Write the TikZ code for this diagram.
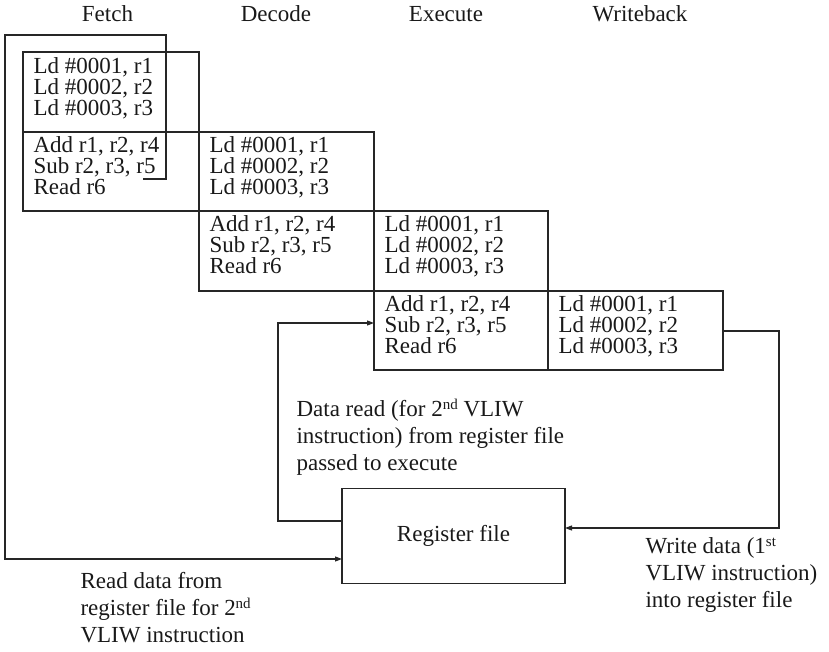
\documentclass[tikz,border=0pt]{standalone}
\usepackage{fontspec}
\setmainfont{Liberation Serif}
\usetikzlibrary{arrows.meta,calc}
% font settings: tight leading inside the pipeline cells, normal leading for notes
\newcommand{\cellfnt}{\fontsize{23}{21}\selectfont\lineskiplimit=-20pt}
\newcommand{\notefnt}{\fontsize{23}{27}\selectfont\lineskiplimit=-20pt}
\newcommand{\sups}[1]{\raisebox{7pt}{\fontsize{15}{15}\selectfont #1}}
\begin{document}
\begin{tikzpicture}[x=1pt,y=-1pt,
  line width=1.1pt,
  draw=black!85,
  cell/.style={draw, rectangle, inner sep=0pt, outer sep=0pt,
    anchor=north west, minimum width=#1, minimum height=80pt},
  celltxt/.style={anchor=north west, inner sep=0pt, align=left, font=\cellfnt, text=black!90},
  note/.style={anchor=north west, inner sep=0pt, align=left, font=\notefnt, text=black!90},
  head/.style={anchor=base, inner sep=0pt, font=\notefnt, text=black!90},
  arr/.style={draw, -{Triangle[length=7pt,width=5pt]}}]
\useasboundingbox (0,0) rectangle (829,652);

% stage headings
\node[head] (hf) at (107.5,21.5) {Fetch};
\node[head] (hd) at (276,21.5) {Decode};
\node[head] (he) at (446,21.5) {Execute};
\node[head] (hw) at (640,21.5) {Writeback};

% pipeline cells
\node[cell=176pt] (f1) at (23,52) {};
\node[cell=176pt, minimum height=79pt] (f2) at (23,132) {};
\node[cell=175pt, minimum height=79pt] (d2) at (199,132) {};
\node[cell=175pt] (d3) at (199,211) {};
\node[cell=174pt] (e3) at (374,211) {};
\node[cell=174pt, minimum height=79pt] (e4) at (374,291) {};
\node[cell=175pt, minimum height=79pt] (w4) at (548,291) {};

% cell contents
\node[celltxt] (t1) at ($(f1.north west)+(10,5)$) {Ld \#0001, r1\\Ld \#0002, r2\\Ld \#0003, r3};
\node[celltxt] (t2) at ($(f2.north west)+(10,4)$) {Add r1, r2, r4\\Sub r2, r3, r5\\Read r6};
\node[celltxt] (t3) at ($(d2.north west)+(10,4)$) {Ld \#0001, r1\\Ld \#0002, r2\\Ld \#0003, r3};
\node[celltxt] (t4) at ($(d3.north west)+(10,4)$) {Add r1, r2, r4\\Sub r2, r3, r5\\Read r6};
\node[celltxt] (t5) at ($(e3.north west)+(10,4)$) {Ld \#0001, r1\\Ld \#0002, r2\\Ld \#0003, r3};
\node[celltxt] (t6) at ($(e4.north west)+(10,4)$) {Add r1, r2, r4\\Sub r2, r3, r5\\Read r6};
\node[celltxt] (t7) at ($(w4.north west)+(10,4)$) {Ld \#0001, r1\\Ld \#0002, r2\\Ld \#0003, r3};

% register file
\node[draw, rectangle, inner sep=0pt, outer sep=0pt, minimum width=223pt,
  minimum height=95pt, font=\notefnt, text=black!90] (reg) at (453.5,536) {Register file};

% read path from the fetch stage into the register file
\coordinate (fs) at (143,179);
\draw[arr] (fs) -- (166,179) -- (166,35) -- (5,35) -- (5,559) -- (reg.west |- 0,559);

% operands passed from the register file to execute
\draw[arr] (reg.west |- 0,521) -| (278,323) -- (e4.west |- 0,323);

% writeback into the register file
\draw[arr] (w4.east |- 0,331) -| (779,528) -- (reg.east |- 0,528);

% notes
\node[note] (nread) at (296,399) {Data read (for 2\sups{nd} VLIW\\instruction) from register file\\passed to execute};
\node[note] (nwrite) at (645,537) {Write data (1\sups{st}\\VLIW instruction)\\into register file};
\node[note] (nfetch) at (80,572) {Read data from\\register file for 2\sups{nd}\\VLIW instruction};
\end{tikzpicture}
\end{document}
